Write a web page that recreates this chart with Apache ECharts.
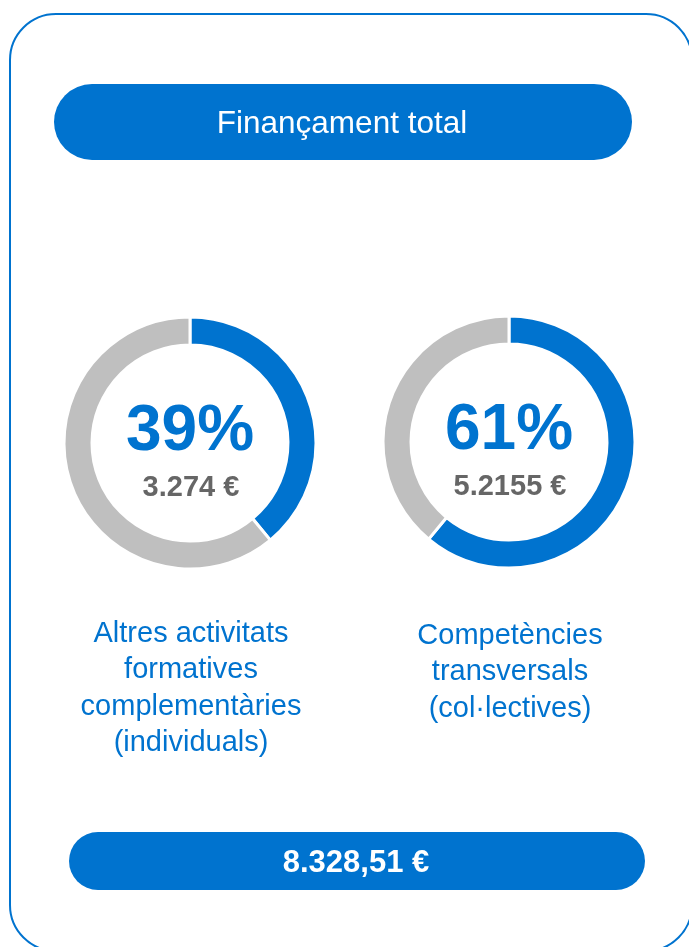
<!DOCTYPE html>
<html>
<head>
<meta charset="utf-8">
<style>
  html, body { margin: 0; padding: 0; background: #fff; }
  #chart { width: 689px; height: 947px; }
</style>
<script src="https://cdn.jsdelivr.net/npm/echarts@6/dist/echarts.min.js"></script>
</head>
<body>
<div id="chart"></div>
<script>
// dades
const headerLabel = 'Finançament total';
const categories = [
  'Altres activitats\nformatives\ncomplementàries\n(individuals)',
  'Competències\ntransversals\n(col·lectives)'
];
const shares = [39, 61];
const amounts = ['3.274 €', '5.2155 €'];
const totalLabel = '8.328,51 €';

const BLUE = '#0073cf';
const GREY = '#bfbfbf';
const FONT = '"Liberation Sans", Arial, sans-serif';

// posicions dels anells
const centers = [[190, 443], [509, 442]];

const chart = echarts.init(document.getElementById('chart'), null, { renderer: 'canvas' });

const series = shares.map((s, i) => ({
  type: 'pie',
  center: centers[i],
  radius: [98, 126],
  startAngle: 90,
  clockwise: true,
  silent: true,
  label: { show: false },
  labelLine: { show: false },
  itemStyle: { borderColor: '#fff', borderWidth: 3 },
  data: [
    { value: s, name: categories[i], itemStyle: { color: BLUE } },
    { value: 100 - s, name: 'resta', itemStyle: { color: GREY } }
  ]
}));

const graphic = [
  // marc exterior
  {
    type: 'rect', shape: { x: 10, y: 14, width: 682, height: 937, r: 46 },
    style: { fill: 'none', stroke: BLUE, lineWidth: 2 }, z: 0
  },
  // capçalera
  {
    type: 'rect', shape: { x: 54, y: 84, width: 578, height: 76, r: 38 },
    style: { fill: BLUE }
  },
  {
    type: 'text', x: 342, y: 124,
    style: { text: headerLabel, fill: '#fff', font: '31.5px ' + FONT, align: 'center', verticalAlign: 'middle' }
  },
  // total
  {
    type: 'rect', shape: { x: 69, y: 832, width: 576, height: 58, r: 29 },
    style: { fill: BLUE }
  },
  {
    type: 'text', x: 356, y: 863,
    style: { text: totalLabel, fill: '#fff', font: 'bold 31px ' + FONT, align: 'center', verticalAlign: 'middle' }
  }
];

shares.forEach((s, i) => {
  const [cx, cy] = centers[i];
  graphic.push({
    type: 'text', x: cx, y: cy - 11,
    style: { text: s + '%', fill: BLUE, font: 'bold 64px ' + FONT, align: 'center', verticalAlign: 'middle' }
  });
  graphic.push({
    type: 'text', x: cx + 1, y: cy + 45,
    style: { text: amounts[i], fill: '#666666', font: 'bold 29px ' + FONT, align: 'center', verticalAlign: 'middle' }
  });
  graphic.push({
    type: 'text', x: cx + 1, y: 616 + i * 2,
    style: {
      text: categories[i], fill: BLUE, font: '29px ' + FONT,
      lineHeight: 36.3, align: 'center', verticalAlign: 'top'
    }
  });
});

chart.setOption({
  backgroundColor: '#fff',
  animation: false,
  series: series,
  graphic: graphic
});
</script>
</body>
</html>
